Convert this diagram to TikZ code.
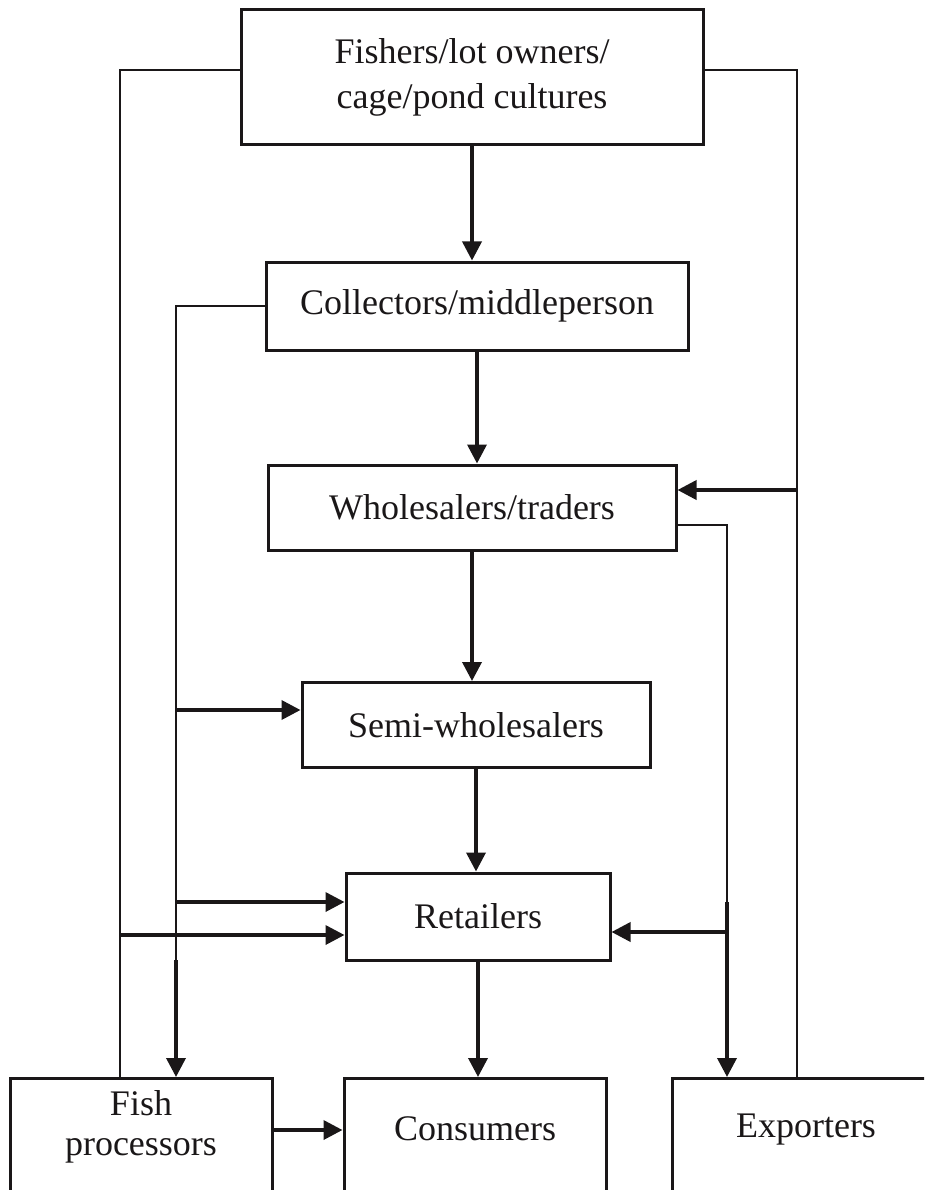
\documentclass[tikz,border=0pt]{standalone}
\usepackage{fontspec}
\setmainfont{Liberation Serif}
\usetikzlibrary{arrows.meta,calc}
\definecolor{ink}{HTML}{1A1718}
\tikzset{
  box/.style={draw=ink, line width=3pt, inner sep=0pt, align=center, text=ink,
    font=\fontsize{36}{45}\selectfont},
  lbl/.style={inner sep=0pt, align=center, text=ink, font=\fontsize{36}{40}\selectfont},
  bus/.style={draw=ink, line width=2.2pt},
  arr/.style={draw=ink, line width=3.6pt, -{Triangle[length=19pt,width=19pt]}}
}
\begin{document}
\begin{tikzpicture}[x=1pt,y=-1pt]
\useasboundingbox (0,0) rectangle (924,1190);
\clip (0,0) rectangle (924,1190);
% boxes
\node[box, minimum width=462pt, minimum height=135pt] (top) at (472,77.5) {Fishers/lot owners/\\cage/pond cultures};
\node[box, minimum width=422pt, minimum height=88pt] (coll) at (477,306) {Collectors/middleperson};
\node[box, minimum width=408pt, minimum height=85pt] (whole) at (472,507.5) {Wholesalers/traders};
\node[box, minimum width=348pt, minimum height=85pt] (semi) at (476,725) {Semi-wholesalers};
\node[box, minimum width=264pt, minimum height=87pt] (ret) at (478,916.5) {Retailers};
\node[box, minimum width=262pt, minimum height=150pt, anchor=north] (fish) at (141,1077) {};
\node[box, minimum width=262pt, minimum height=150pt, anchor=north] (cons) at (475,1077) {};
\node[box, minimum width=262pt, minimum height=150pt, anchor=north] (exp) at (803,1077) {};
\node[lbl] (fishT) at (141,1127) {Fish\\processors};
\node[lbl] (consT) at (475,1129) {Consumers};
\node[lbl] (expT) at (806,1130) {Exporters};
% coordinates of bus lines
\coordinate (L) at (120,70);
\coordinate (R) at (797,70);
\coordinate (C) at (176,306);
\coordinate (Cb) at (176,960);
\coordinate (Cs) at (176,710);
\coordinate (Cr) at (176,902);
\coordinate (Lr) at (120,935);
\coordinate (Rw) at (797,490);
\coordinate (W) at (727,525);
\coordinate (Wb) at (727,902);
\coordinate (Wr) at (727,932);
\coordinate (Fy) at (0,1130);
% bus lines
\draw[bus] (top.west |- L) -- (L) -- (L |- fish.north);
\draw[bus] (top.east |- R) -- (R) -- (R |- exp.north);
\draw[bus] (coll.west |- C) -- (C) -- (Cb);
\draw[bus] (whole.east |- W) -- (W) -- (Wb);
% arrows
\draw[arr] (top.south) -- (top.south |- coll.north);
\draw[arr] (coll.south) -- (coll.south |- whole.north);
\draw[arr] (whole.south) -- (whole.south |- semi.north);
\draw[arr] (semi.south) -- (semi.south |- ret.north);
\draw[arr] (ret.south) -- (ret.south |- cons.north);
\draw[arr] (Cb) -- (Cb |- fish.north);
\draw[arr] (Cs) -- (Cs -| semi.west);
\draw[arr] (Cr) -- (Cr -| ret.west);
\draw[arr] (Lr) -- (Lr -| ret.west);
\draw[arr] (Rw) -- (Rw -| whole.east);
\draw[arr] (Wb) -- (Wb |- exp.north);
\draw[arr] (Wr) -- (Wr -| ret.east);
\draw[arr] (fish.east |- Fy) -- (cons.west |- Fy);
\end{tikzpicture}
\end{document}
